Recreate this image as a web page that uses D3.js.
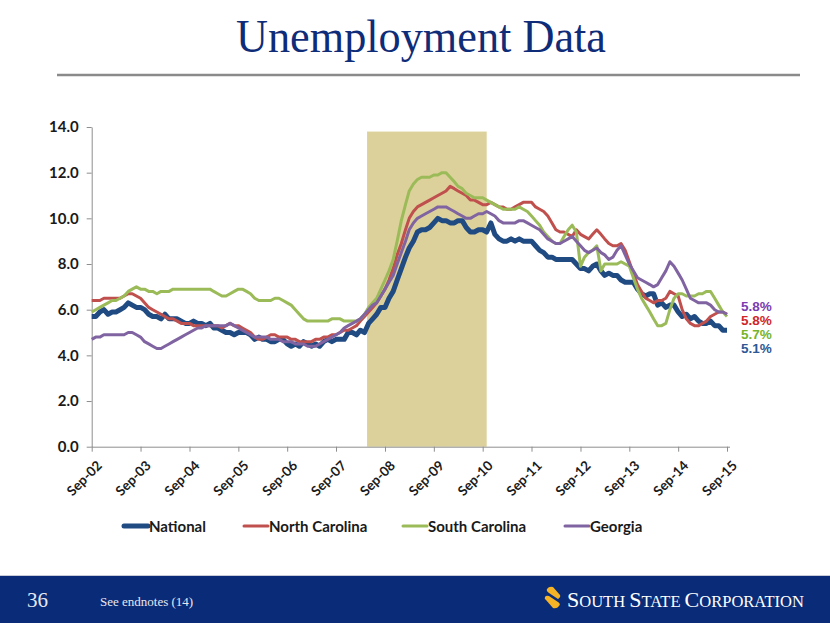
<!DOCTYPE html>
<html>
<head>
<meta charset="utf-8">
<script src="https://cdn.jsdelivr.net/npm/d3@7"></script>
<style>
  html, body { margin: 0; padding: 0; background: #fff; }
  svg { display: block; }
  .tick text { font-family: Lato, "Open Sans", sans-serif; font-weight: bold; fill: #1a1a1a; }
</style>
</head>
<body>
<svg id="svg" width="830" height="623"></svg>
<script>
// monthly series, Sep-02 .. Sep-15
var startMonth = new Date(2002, 8, 1);
var endMonth = new Date(2015, 8, 1);
var months = d3.timeMonth.range(startMonth, d3.timeMonth.offset(endMonth, 1));

var seriesNames = ["National", "North Carolina", "South Carolina", "Georgia"];

var national = [5.7,5.7,5.9,6.0,
  5.8,5.9,5.9,6.0,6.1,6.3,6.2,6.1,6.1,6.0,5.8,5.7,
  5.7,5.6,5.8,5.6,5.6,5.6,5.5,5.4,5.4,5.5,5.4,5.4,
  5.3,5.4,5.2,5.2,5.1,5.0,5.0,4.9,5.0,5.0,5.0,4.9,
  4.7,4.8,4.7,4.7,4.6,4.6,4.7,4.7,4.5,4.4,4.5,4.4,
  4.6,4.5,4.4,4.5,4.4,4.6,4.7,4.6,4.7,4.7,4.7,5.0,
  5.0,4.9,5.1,5.0,5.4,5.6,5.8,6.1,6.1,6.5,6.8,7.3,
  7.8,8.3,8.7,9.0,9.4,9.5,9.5,9.6,9.8,10.0,9.9,9.9,
  9.8,9.8,9.9,9.9,9.6,9.4,9.4,9.5,9.5,9.4,9.8,9.3,
  9.1,9.0,9.0,9.1,9.0,9.1,9.0,9.0,9.0,8.8,8.6,8.5,
  8.3,8.3,8.2,8.2,8.2,8.2,8.2,8.0,7.8,7.8,7.7,7.9,
  8.0,7.7,7.5,7.6,7.5,7.5,7.3,7.2,7.2,7.2,6.9,6.7,
  6.6,6.7,6.7,6.2,6.3,6.1,6.2,6.2,5.9,5.7,5.8,5.6,
  5.7,5.5,5.4,5.4,5.5,5.3,5.3,5.1,5.1];

var northCarolina = [6.4,6.4,6.4,6.5,
  6.5,6.5,6.5,6.5,6.6,6.7,6.7,6.6,6.5,6.3,6.1,6.0,
  5.9,5.8,5.7,5.6,5.6,5.5,5.4,5.4,5.4,5.3,5.3,5.3,
  5.3,5.3,5.3,5.3,5.2,5.3,5.4,5.3,5.3,5.2,5.1,5.0,
  4.8,4.7,4.7,4.8,4.9,4.9,4.8,4.8,4.8,4.7,4.7,4.6,
  4.6,4.6,4.6,4.7,4.7,4.8,4.8,4.9,4.9,5.0,5.1,5.1,
  5.2,5.3,5.5,5.7,5.9,6.1,6.3,6.6,6.9,7.3,7.8,8.4,
  8.9,9.5,10.0,10.3,10.5,10.6,10.7,10.8,10.9,11.0,11.1,11.2,
  11.4,11.3,11.2,11.1,11.0,10.8,10.8,10.7,10.6,10.6,10.7,10.6,
  10.5,10.5,10.4,10.4,10.5,10.6,10.7,10.7,10.7,10.5,10.4,10.3,
  10.1,9.8,9.5,9.4,9.4,9.3,9.2,9.5,9.3,9.2,9.1,9.3,
  9.5,9.3,9.1,8.9,8.8,8.8,8.9,8.6,8.1,7.6,7.1,6.8,
  6.5,6.4,6.3,6.4,6.4,6.5,6.8,6.7,6.6,6.0,5.6,5.4,
  5.3,5.3,5.4,5.5,5.7,5.8,5.9,5.9,5.8];

var southCarolina = [5.9,6.0,6.1,6.2,
  6.3,6.4,6.4,6.5,6.6,6.8,6.9,7.0,6.9,6.9,6.8,6.8,
  6.7,6.8,6.8,6.8,6.9,6.9,6.9,6.9,6.9,6.9,6.9,6.9,
  6.9,6.9,6.8,6.7,6.6,6.6,6.7,6.8,6.9,6.9,6.8,6.7,
  6.5,6.4,6.4,6.4,6.4,6.5,6.5,6.4,6.3,6.2,6.0,5.8,
  5.6,5.5,5.5,5.5,5.5,5.5,5.5,5.6,5.6,5.6,5.5,5.5,
  5.5,5.5,5.6,5.8,6.1,6.3,6.5,6.9,7.3,7.7,8.2,9.0,
  9.9,10.6,11.2,11.5,11.7,11.8,11.8,11.8,11.9,11.9,12.0,12.0,
  11.8,11.6,11.4,11.3,11.1,11.0,10.9,10.9,10.9,10.8,10.7,10.6,
  10.5,10.4,10.4,10.4,10.4,10.5,10.4,10.3,10.1,9.9,9.7,9.4,
  9.2,9.0,8.9,8.9,9.2,9.5,9.7,9.4,7.9,8.3,8.5,8.6,
  8.8,7.7,8.0,8.0,8.0,8.0,8.1,8.0,7.9,7.4,6.9,6.5,
  6.2,5.9,5.6,5.3,5.3,5.4,6.0,6.5,6.7,6.7,6.6,6.6,
  6.6,6.7,6.7,6.8,6.8,6.5,6.2,5.9,5.7];

var georgia = [4.7,4.8,4.8,4.9,
  4.9,4.9,4.9,4.9,4.9,5.0,5.0,4.9,4.8,4.6,4.5,4.4,
  4.3,4.3,4.4,4.5,4.6,4.7,4.8,4.9,5.0,5.1,5.2,5.2,
  5.3,5.3,5.3,5.3,5.3,5.3,5.4,5.3,5.2,5.1,5.0,4.9,
  4.8,4.8,4.8,4.8,4.7,4.7,4.7,4.6,4.6,4.6,4.5,4.5,
  4.5,4.4,4.4,4.4,4.5,4.6,4.7,4.8,4.9,5.0,5.2,5.3,
  5.4,5.5,5.6,5.8,6.0,6.2,6.3,6.6,6.9,7.2,7.5,8.0,
  8.5,9.0,9.5,9.8,10.0,10.1,10.2,10.3,10.4,10.5,10.5,10.5,
  10.4,10.3,10.2,10.1,10.0,10.0,10.1,10.2,10.2,10.3,10.2,10.1,
  9.9,9.8,9.8,9.8,9.8,9.9,9.9,9.8,9.7,9.6,9.5,9.3,
  9.1,9.0,8.9,8.9,9.0,9.1,9.2,9.0,8.8,8.6,8.5,8.6,
  8.7,8.5,8.4,8.2,8.3,8.6,8.8,8.4,8.0,7.7,7.4,7.3,
  7.2,7.1,7.0,7.1,7.4,7.7,8.1,7.9,7.6,7.3,6.9,6.5,
  6.4,6.3,6.3,6.3,6.2,6.0,5.9,5.9,5.8];

var yTicks = [0, 2, 4, 6, 8, 10, 12, 14];
var xTickDates = d3.timeYear.range(new Date(2002, 0, 1), new Date(2016, 0, 1)).map(function(d) {
  return new Date(d.getFullYear(), 8, 1);
});

// shaded period
var bandStart = new Date(2008, 3, 20);
var bandEnd = new Date(2010, 9, 1);
var bandTop = 13.8;

// end-of-series labels, top to bottom
var endLabels = ["5.8%", "5.8%", "5.7%", "5.1%"];

var svg = d3.select("#svg");

var x = d3.scaleTime().domain([startMonth, endMonth]).range([91.7, 727]);
var y = d3.scaleLinear().domain([0, 14]).range([446.7, 127]);

// title
svg.append("text")
  .attr("x", 421).attr("y", 52)
  .attr("text-anchor", "middle")
  .attr("font-family", "'Liberation Serif', 'DejaVu Serif', serif")
  .attr("font-size", 46)
  .attr("fill", "#0f2c78")
  .attr("textLength", 370)
  .attr("lengthAdjust", "spacingAndGlyphs")
  .text("Unemployment Data");

svg.append("line")
  .attr("x1", 57).attr("x2", 800).attr("y1", 75).attr("y2", 75)
  .attr("stroke", "#8a8a8a").attr("stroke-width", 2.5);

// band
svg.append("rect")
  .attr("x", x(bandStart))
  .attr("y", y(bandTop))
  .attr("width", x(bandEnd) - x(bandStart))
  .attr("height", y(0) - y(bandTop))
  .attr("fill", "#ddd19b");

// axes
var yAxis = svg.append("g")
  .attr("transform", "translate(91.7,0)")
  .call(d3.axisLeft(y).tickValues(yTicks).tickFormat(d3.format(".1f")).tickSize(5).tickSizeOuter(0).tickPadding(8));
yAxis.selectAll("text").attr("font-size", 15);

var xAxis = svg.append("g")
  .attr("transform", "translate(0,446.7)")
  .call(d3.axisBottom(x).tickValues(xTickDates).tickFormat(d3.timeFormat("%b-%y")).tickSize(5).tickSizeOuter(0));
xAxis.selectAll("text")
  .attr("font-size", 13.5)
  .attr("text-anchor", "end")
  .attr("dx", 0).attr("dy", 0)
  .attr("transform", "translate(5,14) rotate(-45)");

svg.selectAll(".domain, .tick line").attr("stroke", "#8e8e8e").attr("stroke-width", 1);
xAxis.select(".domain").attr("d", "M91.7,0.5H730");

// lines
var colors = ["#1f4a82", "#c0504d", "#9bbb59", "#8064a2"];
var widths = [5, 3, 3, 3];
var allSeries = [national, northCarolina, southCarolina, georgia];

var line = d3.line()
  .x(function(d, i) { return x(months[i]); })
  .y(function(d) { return y(d); });

svg.append("g").selectAll("path")
  .data(allSeries)
  .enter().append("path")
  .attr("d", line)
  .attr("fill", "none")
  .attr("stroke", function(d, i) { return colors[i]; })
  .attr("stroke-width", function(d, i) { return widths[i]; })
  .attr("stroke-linejoin", "round");

// end labels
var endColors = ["#7a3cb0", "#d0262a", "#76b32c", "#2d5896"];
svg.append("g").selectAll("text")
  .data(endLabels)
  .enter().append("text")
  .attr("x", 741)
  .attr("y", function(d, i) { return 311 + i * 14; })
  .attr("font-family", "'Liberation Sans', Arial, sans-serif")
  .attr("font-weight", "bold")
  .attr("font-size", 13.5)
  .attr("fill", function(d, i) { return endColors[i]; })
  .text(function(d) { return d; });

// legend
var legendX = [123, 243, 402, 564];
var legend = svg.append("g").selectAll("g")
  .data(seriesNames)
  .enter().append("g")
  .attr("transform", function(d, i) { return "translate(" + legendX[i] + ",526)"; });
legend.append("line")
  .attr("x1", 1).attr("x2", 25).attr("y1", 0).attr("y2", 0)
  .attr("stroke", function(d, i) { return colors[i]; })
  .attr("stroke-width", function(d, i) { return i === 0 ? 5 : 3; })
  .attr("stroke-linecap", "round");
legend.append("text")
  .attr("x", 26).attr("y", 5.5)
  .attr("font-family", "Lato, 'Open Sans', sans-serif")
  .attr("font-weight", "bold")
  .attr("font-size", 15)
  .attr("fill", "#1a1a1a")
  .text(function(d) { return d; });

// footer
svg.append("rect").attr("x", 0).attr("y", 575).attr("width", 830).attr("height", 1).attr("fill", "#c9ccd6");
svg.append("rect").attr("x", 0).attr("y", 576).attr("width", 830).attr("height", 47).attr("fill", "#0a2b78");
svg.append("text")
  .attr("x", 27).attr("y", 607)
  .attr("font-family", "'Liberation Serif', serif")
  .attr("font-size", 21)
  .attr("fill", "#e6e8f0")
  .text("36");
svg.append("text")
  .attr("x", 100).attr("y", 606)
  .attr("font-family", "'Liberation Serif', serif")
  .attr("font-size", 13)
  .attr("fill", "#e6e8f0")
  .text("See endnotes (14)");

// logo mark: two stacked slanted bands
var logo = svg.append("g").attr("fill", "#f6b326");
logo.append("path").attr("d", "M547,589 Q549,586 553,587 L560,595 Q561,597 558,599 L549,593 Q546,591 547,589 Z");
logo.append("path").attr("d", "M545,597 Q546,595 549,596 L558,602 Q561,604 559,606 Q557,609 553,608 L546,600 Q544,599 545,597 Z");

var logoText = svg.append("text")
  .attr("x", 567).attr("y", 607)
  .attr("font-family", "'Liberation Serif', serif")
  .attr("fill", "#ffffff");
[["S", 22], ["OUTH ", 16.5], ["S", 22], ["TATE ", 16.5], ["C", 22], ["ORPORATION", 16.5]].forEach(function(p) {
  logoText.append("tspan").attr("font-size", p[1]).text(p[0]);
});
</script>
</body>
</html>
